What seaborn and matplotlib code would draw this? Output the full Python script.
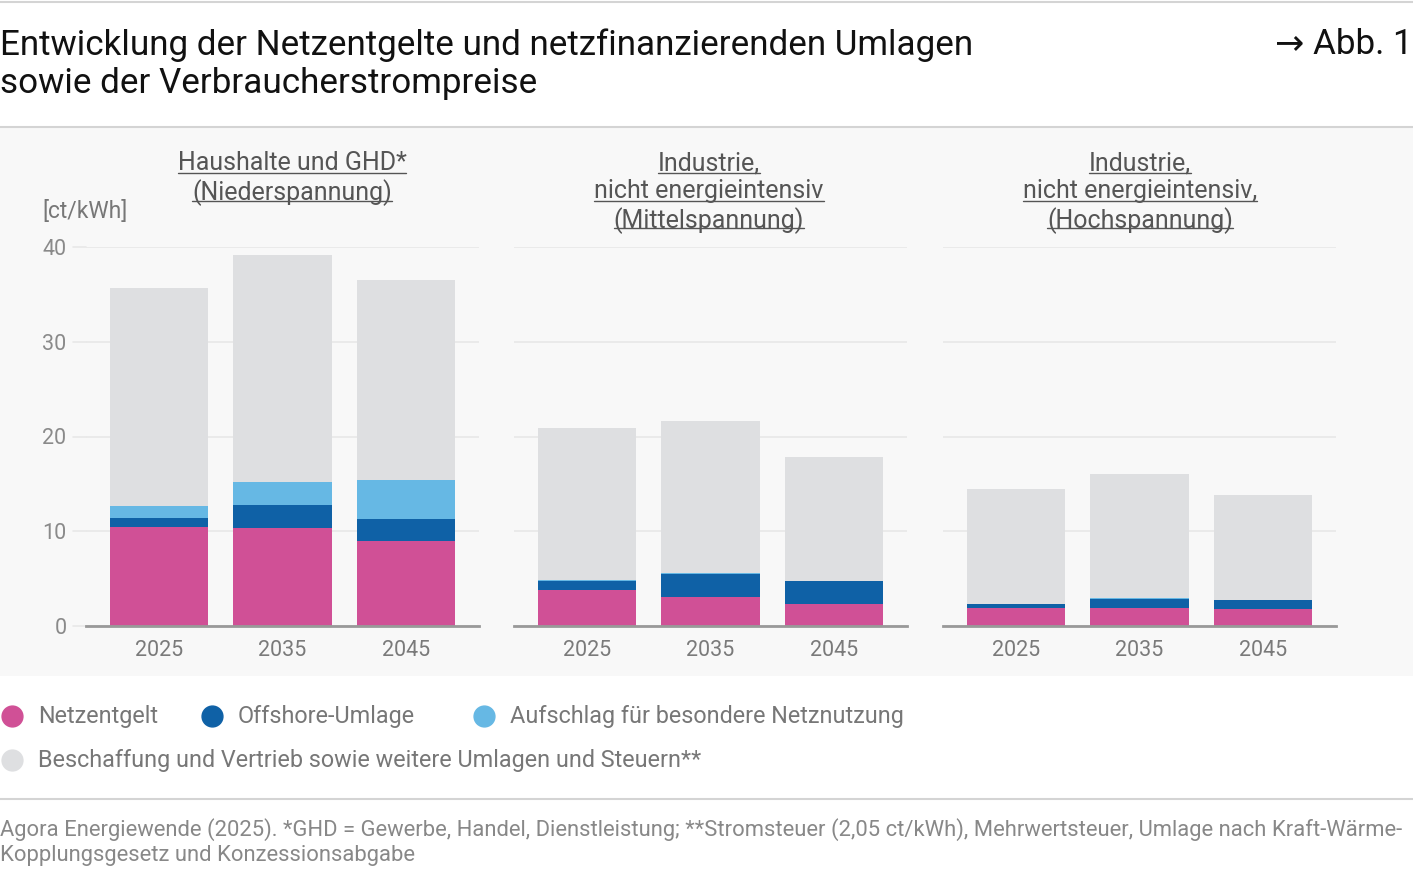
import pandas as pd
import seaborn as sns
import matplotlib.pyplot as plt
from matplotlib.lines import Line2D

sns.set_theme(style='white')
plt.rcParams['font.family'] = ['Roboto', 'DejaVu Sans']

# data, ct/kWh
years = ['2025', '2035', '2045']
panel_titles = ['Haushalte und GHD*\n(Niederspannung)',
                'Industrie,\nnicht energieintensiv\n(Mittelspannung)',
                'Industrie,\nnicht energieintensiv,\n(Hochspannung)']
netzentgelt = [[10.46, 10.35, 8.95], [3.84, 3.03, 2.37], [1.94, 1.94, 1.84]]
offshore = [[0.92, 2.43, 2.32], [0.96, 2.50, 2.35], [0.38, 0.95, 0.87]]
aufschlag = [[1.27, 2.40, 4.19], [0.05, 0.05, 0.05], [0.03, 0.03, 0.03]]
gesamt = [[35.67, 39.15, 36.51], [20.88, 21.62, 17.82], [14.44, 16.02, 13.80]]

labels = ['Netzentgelt', 'Offshore-Umlage', 'Aufschlag für besondere Netznutzung',
          'Beschaffung und Vertrieb sowie weitere Umlagen und Steuern**']
colors = ['#d05096', '#0f61a6', '#66b8e4', '#dedfe1']

W, H = 1413, 876
fig = plt.figure(figsize=(W / 100, H / 100), dpi=100)
fig.patch.set_facecolor('white')


def fx(px):
    return px / W


def fy(py):
    return 1 - py / H


# background band + rules
fig.add_artist(plt.Rectangle((0, fy(676)), 1, (676 - 128) / H, transform=fig.transFigure,
                             facecolor='#f8f8f8', edgecolor='none', zorder=0))
for yy in [2, 127, 799]:
    fig.add_artist(Line2D([0, 1], [fy(yy), fy(yy)], transform=fig.transFigure,
                          color='#d4d4d4', lw=1.5))

fig.text(0, fy(45), 'Entwicklung der Netzentgelte und netzfinanzierenden Umlagen',
         fontsize=25.2, va='center', ha='left', color='#111111')
fig.text(0, fy(84), 'sowie der Verbraucherstrompreise',
         fontsize=25.2, va='center', ha='left', color='#111111')
fig.text(1, fy(45), '→ Abb. 1', fontsize=25.2, va='center', ha='right', color='#111111')

TFS = 18
lefts = [86, 514, 943]
title_cx = [292, 709, 1140]
AXW = 393
title_texts = []
for i in range(3):
    ax = fig.add_axes([fx(lefts[i]), fy(626), fx(AXW), (626 - 247) / H])
    ax.set_facecolor('none')
    df = pd.DataFrame({'Jahr': years,
                       'n': netzentgelt[i], 'o': offshore[i], 'a': aufschlag[i],
                       'g': gesamt[i]})
    bottom = [0, 0, 0]
    parts = [df['n'], df['o'], df['a'], df['g'] - df['n'] - df['o'] - df['a']]
    for vals, col in zip(parts, colors):
        d = pd.DataFrame({'Jahr': years, 'v': list(vals)})
        sns.barplot(data=d, x='Jahr', y='v', color=col, width=0.8, bottom=bottom,
                    saturation=1, ax=ax, edgecolor='none', linewidth=0, zorder=3)
        bottom = [b + v for b, v in zip(bottom, vals)]
    ax.set_ylim(0, 40)
    ax.set_xlim(-0.593, 2.593)
    ax.set_yticks([0, 10, 20, 30, 40])
    ax.yaxis.grid(True, color='#e8e8e8', lw=1.2, zorder=0)
    ax.set_axisbelow(True)
    for s in ['top', 'right', 'left']:
        ax.spines[s].set_visible(False)
    ax.spines['bottom'].set_color('#999999')
    ax.spines['bottom'].set_linewidth(2)
    ax.spines['bottom'].set_zorder(5)
    ax.set_xlabel('')
    ax.set_ylabel('')
    ax.tick_params(axis='x', length=0, pad=10, labelsize=15.5, labelcolor='#7a7a7a')
    if i == 0:
        ax.tick_params(axis='y', length=0, pad=14, labelsize=15.5, labelcolor='#8a8a8a')
        # short grid stubs left of the first panel
        unit = AXW / 3.186
        for v in [0, 10, 20, 30, 40]:
            ax.plot([-0.593 - 13 / unit, -0.593], [v, v], color='#e8e8e8', lw=1.2,
                    clip_on=False, zorder=0)
    else:
        ax.tick_params(axis='y', length=0, labelleft=False)
    t = fig.text(fx(title_cx[i]), fy(151), panel_titles[i], ha='center', va='top',
                 fontsize=TFS, color='#555555', linespacing=1.2)
    title_texts.append(t)

fig.text(fx(42), fy(211), '[ct/kWh]', fontsize=16.5, color='#777777', va='center', ha='left')

# underline panel titles line by line
fig.canvas.draw()
r = fig.canvas.get_renderer()
for t in title_texts:
    lines = t.get_text().split('\n')
    bb = t.get_window_extent(r)
    lh = bb.height / len(lines)
    cx = (bb.x0 + bb.x1) / 2
    for k, ln in enumerate(lines):
        tmp = fig.text(0, 0, ln, fontsize=TFS)
        w = tmp.get_window_extent(r).width
        tmp.remove()
        ybase = bb.y1 - (k + 1) * lh + lh * 0.2
        fig.add_artist(Line2D([(cx - w / 2) / W, (cx + w / 2) / W], [ybase / H, ybase / H],
                              transform=fig.transFigure, color='#555555', lw=1))

# legend
leg_pos = [(12, 716), (212, 716), (484, 716), (12, 760)]
for (x, y), lab, col in zip(leg_pos, labels, colors):
    fig.add_artist(Line2D([fx(x)], [fy(y)], transform=fig.transFigure, marker='o',
                          markersize=15, color=col, lw=0))
    fig.text(fx(x + 26), fy(y + 1), lab, fontsize=16.8, color='#777777', va='center', ha='left')

fig.text(0, fy(830), 'Agora Energiewende (2025). *GHD = Gewerbe, Handel, Dienstleistung; '
         '**Stromsteuer (2,05 ct/kWh), Mehrwertsteuer, Umlage nach Kraft-Wärme-',
         fontsize=15.8, color='#888888', va='center', ha='left')
fig.text(0, fy(855), 'Kopplungsgesetz und Konzessionsabgabe',
         fontsize=15.8, color='#888888', va='center', ha='left')

fig.savefig('out.png', dpi=100)
